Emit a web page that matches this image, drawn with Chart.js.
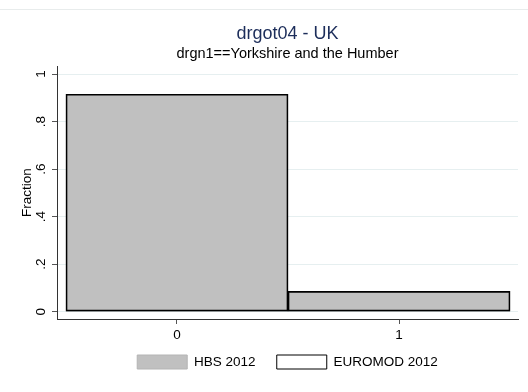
<!DOCTYPE html>
<html>
<head>
<meta charset="utf-8">
<script src="https://cdn.jsdelivr.net/npm/chart.js@4/dist/chart.umd.min.js"></script>
<style>
  body { margin: 0; background: #fff; }
  #wrap { width: 528px; height: 392px; position: relative; }
</style>
</head>
<body>
<div id="wrap"><canvas id="myChart"></canvas></div>
<script>
// values
var categories = [0, 1];
var hbs_fraction = [0.915, 0.085];
var euromod_fraction = [0.915, 0.085];
var y_ticks = [0, 0.2, 0.4, 0.6, 0.8, 1];
var x_ticks = [0, 1];
var series_names = ['HBS 2012', 'EUROMOD 2012'];

var font_family = '"Liberation Sans", Arial, Helvetica, sans-serif';

function toPoints(values){
    var pts = [];
    for (let i = 0; i < categories.length; i++) {
        pts.push({x: categories[i], y: values[i]});
    }
    return pts;
}

function fmtFraction(v){
    if (v == 0) return '0';
    if (v == 1) return '1';
    return String(Math.round(v * 10) / 10).replace(/^0/, '');
}

// faint frame line at the top of the Stata graph region
var topLine = {
    id: 'topLine',
    beforeDraw: function(chart){
        var c = chart.ctx;
        c.save();
        c.fillStyle = '#fff';
        c.fillRect(0, 0, chart.width, chart.height);
        c.strokeStyle = '#e8ecec';
        c.lineWidth = 1;
        c.beginPath();
        c.moveTo(0, 9.5);
        c.lineTo(chart.width, 9.5);
        c.stroke();
        c.restore();
    }
};

var ctx = document.getElementById('myChart').getContext('2d');

var chart = new Chart(ctx, {
    type: 'bar',
    data: {
        datasets: [{
            label: series_names[0],
            data: toPoints(hbs_fraction),
            backgroundColor: '#c0c0c0',
            borderColor: '#505050',
            borderWidth: 1,
            borderSkipped: false,
            grouped: false,
            barPercentage: 1,
            categoryPercentage: 1,
            order: 2
        },{
            label: series_names[1],
            data: toPoints(euromod_fraction),
            backgroundColor: 'rgba(0,0,0,0)',
            borderColor: '#000',
            borderWidth: 1,
            borderSkipped: false,
            grouped: false,
            barPercentage: 1,
            categoryPercentage: 1,
            order: 1
        }]
    },
    plugins: [topLine],
    options: {
        responsive: true,
        maintainAspectRatio: false,
        animation: false,
        layout: { padding: { left: 0, right: 10, top: 0, bottom: 13 } },
        plugins: {
            title: {
                display: true,
                text: 'drgot04 - UK',
                color: '#1c2d5a',
                fullSize: false,
                font: { family: font_family, size: 18, weight: 'normal', lineHeight: 1 },
                padding: { top: 25.4, bottom: 0 }
            },
            subtitle: {
                display: true,
                text: 'drgn1==Yorkshire and the Humber',
                color: '#000',
                fullSize: false,
                font: { family: font_family, size: 14.5, weight: 'normal', lineHeight: 1 },
                padding: { top: 3, bottom: 5.1 }
            },
            legend: {
                position: 'bottom',
                fullSize: false,
                labels: {
                    boxWidth: 50,
                    boxHeight: 14,
                    padding: 10,
                    color: '#000',
                    font: { family: font_family, size: 13.5 },
                    generateLabels: function(chart){
                        // trailing spaces widen the gap between the two keys
                        return [{
                            text: series_names[0] + '   ',
                            fillStyle: '#c0c0c0',
                            strokeStyle: '#b4b4b4',
                            lineWidth: 1,
                            datasetIndex: 0
                        },{
                            text: series_names[1],
                            fillStyle: '#fff',
                            strokeStyle: '#000',
                            lineWidth: 1,
                            datasetIndex: 1
                        }];
                    }
                }
            },
            tooltip: { enabled: false }
        },
        scales: {
            x: {
                type: 'linear',
                offset: false,
                min: -0.5405,
                max: 1.536,
                afterBuildTicks: function(scale){
                    scale.ticks = x_ticks.map(function(v){ return {value: v}; });
                },
                afterFit: function(scale){ scale.height = 26; },
                grid: { offset: false, drawOnChartArea: false, tickLength: 5, tickColor: '#555' },
                border: { color: '#333', width: 1 },
                ticks: {
                    color: '#000',
                    padding: 3,
                    minRotation: 0,
                    maxRotation: 0,
                    font: { family: font_family, size: 13.5 },
                    callback: function(v){ return String(v); }
                }
            },
            y: {
                type: 'linear',
                min: -0.031,
                max: 1.034,
                afterBuildTicks: function(scale){
                    scale.ticks = y_ticks.map(function(v){ return {value: v}; });
                },
                afterFit: function(scale){ scale.width = 57; },
                grid: { color: '#e6eff0', tickLength: 5, tickColor: '#555' },
                border: { color: '#333', width: 1 },
                title: {
                    display: true,
                    text: 'Fraction',
                    color: '#000',
                    font: { family: font_family, size: 13.5 },
                    padding: { top: 19, bottom: 0 }
                },
                ticks: {
                    color: '#000',
                    padding: 5,
                    minRotation: 90,
                    maxRotation: 90,
                    crossAlign: 'center',
                    font: { family: font_family, size: 13.5 },
                    callback: function(v){ return fmtFraction(v); }
                }
            }
        }
    }
});
</script>
</body>
</html>
